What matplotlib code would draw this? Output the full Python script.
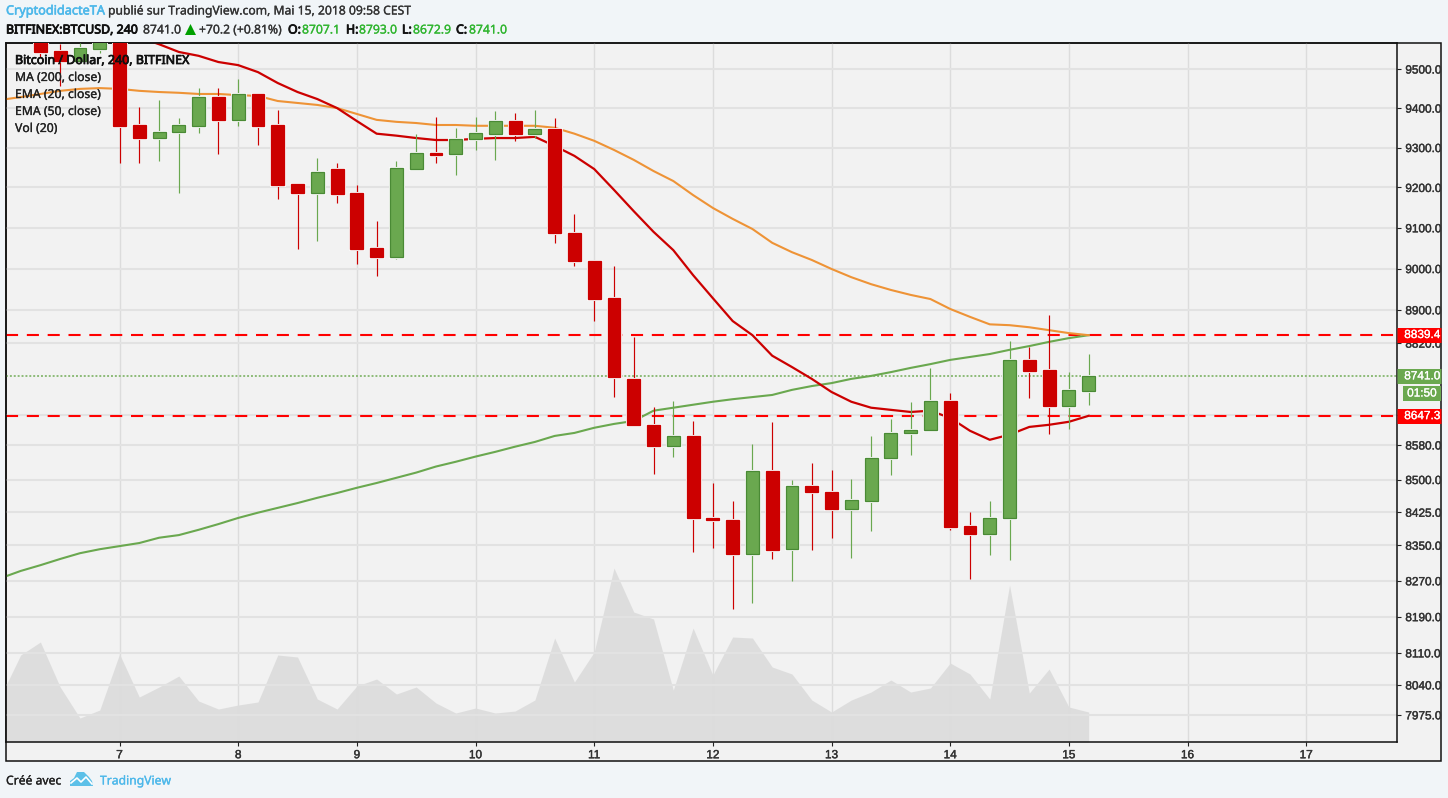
"""BITFINEX:BTCUSD 240 TradingView snapshot, redrawn with matplotlib."""
import matplotlib
matplotlib.use("Agg")
import matplotlib.pyplot as plt
import matplotlib.patheffects as pe
import numpy as np
from matplotlib.lines import Line2D
from matplotlib.patches import Polygon, Rectangle
from matplotlib.ticker import FixedLocator, NullLocator

W, H = 1448, 798

# bar index 0 = the 00:00 candle of day 7, 6 candles per day
bar_index = list(range(-4, 50))
opens = [9590, 9546, 9521, 9551, 9620, 9357, 9324, 9340, 9355, 9428, 9370, 9436, 9357, 9209,
         9186, 9246, 9186, 9050, 9028, 9246, 9286, 9284, 9322, 9335, 9367, 9335, 9347, 9087,
         9018, 8928, 8735, 8627, 8578, 8601, 8412, 8408, 8330, 8520, 8341, 8486, 8472, 8433,
         8451, 8550, 8608, 8615, 8683, 8394, 8376, 8412, 8780, 8756, 8671, 8707.1]
highs = [9600, 9564, 9567, 9590, 9630, 9403, 9421, 9375, 9451, 9451, 9474, 9436, 9395, 9209,
         9274, 9261, 9206, 9117, 9266, 9335, 9378, 9350, 9378, 9393, 9388, 9395, 9375, 9134,
         9018, 9006, 8835, 8669, 8683, 8636, 8491, 8451, 8583, 8634, 8498, 8539, 8523, 8502,
         8601, 8641, 8681, 8761, 8702, 8426, 8451, 8825, 8811, 8887, 8751, 8793.0]
lows = [9531, 9456, 9521, 9541, 9261, 9261, 9266, 9186, 9337, 9284, 9355, 9307, 9171, 9047,
        9068, 9161, 9011, 8982, 9023, 9246, 9261, 9231, 9294, 9269, 9317, 9324, 9063, 9006,
        8873, 8692, 8627, 8513, 8553, 8335, 8344, 8207, 8220, 8319, 8270, 8339, 8367, 8321,
        8383, 8511, 8557, 8615, 8385, 8274, 8328, 8317, 8690, 8606, 8618, 8672.9]
closes = [9544, 9521, 9554, 9570, 9355, 9324, 9340, 9357, 9428, 9370, 9436, 9355, 9206, 9186,
          9239, 9184, 9047, 9028, 9249, 9286, 9281, 9322, 9337, 9367, 9335, 9347, 9087, 9018,
          8926, 8739, 8627, 8578, 8601, 8412, 8408, 8330, 8520, 8339, 8484, 8472, 8433, 8453,
          8550, 8608, 8615, 8683, 8392, 8376, 8412, 8780, 8754, 8671, 8709, 8741.0]

line_index = list(range(-6, 50))
ma200 = [8276, 8292, 8305, 8319, 8332, 8341, 8348, 8355, 8367, 8373, 8385, 8398, 8412, 8424,
         8435, 8446, 8458, 8469, 8481, 8492, 8504, 8516, 8530, 8541, 8553, 8564, 8576, 8587,
         8601, 8608, 8620, 8629, 8636, 8660, 8667, 8674, 8681, 8687, 8692, 8697, 8709, 8718,
         8725, 8735, 8742, 8751, 8761, 8770, 8780, 8787, 8794, 8804, 8813, 8823, 8832, 8839]
ema50 = [9421, 9428, 9436, 9444, 9449, 9451, 9449, 9444, 9441, 9439, 9436, 9436, 9433, 9431,
         9418, 9413, 9408, 9400, 9385, 9370, 9365, 9362, 9357, 9357, 9355, 9355, 9355, 9355,
         9350, 9335, 9317, 9294, 9269, 9241, 9216, 9181, 9149, 9122, 9097, 9063, 9040, 9021,
         8999, 8979, 8962, 8948, 8936, 8926, 8902, 8883, 8865, 8863, 8858, 8851, 8844, 8839]
ema20 = [9731, 9710, 9689, 9668, 9647, 9626, 9605, 9582, 9564, 9544, 9534, 9518, 9510, 9492,
         9464, 9441, 9423, 9400, 9367, 9335, 9330, 9324, 9319, 9319, 9322, 9324, 9324, 9327,
         9304, 9279, 9246, 9194, 9141, 9090, 9045, 8984, 8928, 8873, 8839, 8790, 8763, 8735,
         8704, 8681, 8667, 8662, 8657, 8660, 8643, 8613, 8592, 8604, 8622, 8627, 8634, 8648]
volume = [46, 87, 100, 55, 24, 32, 88, 45, 55, 66, 41, 33, 37, 40, 87, 85, 43, 33, 56, 63, 48,
          55, 39, 29, 34, 29, 31, 42, 104, 60, 90, 174, 130, 123, 52, 114, 67, 105, 104, 75,
          68, 42, 30, 42, 50, 62, 50, 54, 79, 68, 43, 157, 49, 73, 35, 30]

day_index = [0, 6, 12, 18, 24, 30, 36, 42, 48, 54, 60]
day_labels = ["7", "8", "9", "10", "11", "12", "13", "14", "15", "16", "17"]
price_ticks = [9500, 9400, 9300, 9200, 9100, 9000, 8900, 8820, 8650, 8580, 8500, 8425, 8350,
               8270, 8190, 8110, 8040, 7975]
level_high = 8839.4
level_low = 8647.3
last_price = 8741.0
legend_lines = ["MA (200, close)", "EMA (20, close)", "EMA (50, close)", "Vol (20)"]

RED = "#cc0000"
GREEN = "#6aa84f"
GREEN_EDGE = "#4a8a35"
BG = "#f2f2f2"
GRID = "#e2e2e2"
UI_FONT = "Noto Sans"
AXIS_FONT = "Liberation Sans"


def fx(x):
    return x / W


def fy(y):
    return 1 - y / H


def fatten(txt, amount=0.2):
    # Noto Sans has no usable bold here, so thicken the outline instead
    txt.set_path_effects([pe.withStroke(linewidth=amount, foreground=txt.get_color())])
    return txt


def label(x, y, s, weight=0.2, **kw):
    kw.setdefault("family", UI_FONT)
    kw.setdefault("fontsize", 8.75)
    kw.setdefault("va", "center")
    return fatten(fig.text(fx(x), fy(y), s, **kw), weight)


fig = plt.figure(figsize=(W / 100, H / 100), dpi=100, facecolor="#f1f5f8")

# panel behind plot + both scales, with its outer frame
fig.add_artist(Rectangle((fx(6), fy(761)), fx(1435), 718 / H, transform=fig.transFigure,
                         fc=BG, ec="#111111", lw=1.1))

ax_vol = fig.add_axes([fx(6), fy(742), fx(1391), 699 / H])
ax = fig.add_axes([fx(6), fy(742), fx(1391), 699 / H])
ax.set_zorder(2)
ax.patch.set_visible(False)
ax_vol.patch.set_visible(False)
ax_vol.set_zorder(1)

# volume pane
ax_vol.fill_between(line_index, volume, 0, color="#bdbdbd", alpha=0.38, lw=0)
ax_vol.set_xlim(-5.74, 64.59)
ax_vol.set_ylim(0, 699)
ax_vol.axis("off")

ax.set_yscale("log")
ax.set_xlim(-5.74, 64.59)
ax.set_ylim(7916.5, 9567.2)
ax.set_axisbelow(True)

ax.xaxis.set_major_locator(FixedLocator(day_index))
ax.xaxis.set_ticklabels(day_labels)
ax.xaxis.set_minor_locator(NullLocator())
ax.yaxis.tick_right()
ax.yaxis.set_major_locator(FixedLocator(price_ticks))
ax.yaxis.set_ticklabels([f"{p:.1f}" for p in price_ticks])
ax.yaxis.set_minor_locator(NullLocator())
ax.tick_params(axis="both", length=3, width=0.8, color="#222222", labelsize=8.5,
               labelcolor="#333333", labelfontfamily=AXIS_FONT)
ax.tick_params(axis="y", pad=3)
ax.tick_params(axis="x", pad=2.2)
for t in ax.get_xticklabels() + ax.get_yticklabels():
    fatten(t, 0.3)
ax.grid(axis="x", color="#dcdcdc", lw=1.0)
ax.grid(axis="y", color=GRID, lw=1.5)
for sp in ax.spines.values():
    sp.set_color("#111111")
    sp.set_linewidth(1.1)

# horizontal levels sit under the candles
dash = (0, (5.8, 4.2))
ax.axhline(level_high, color="#ff0000", lw=1.5, ls=dash, zorder=1.5)
ax.axhline(level_low, color="#ff0000", lw=1.5, ls=dash, zorder=1.5)
ax.axhline(last_price, color="#8dbb78", lw=1.4, ls=(0, (1, 1)), zorder=1.5)

ax.plot(line_index, ma200, color=GREEN, lw=1.5, zorder=2)
ax.plot(line_index, ema50, color="#ee9336", lw=1.5, zorder=2)
ax.plot(line_index, ema20, color=RED, lw=1.6, zorder=2)

# candles
up = [c >= o for o, c in zip(opens, closes)]
wick_colors = [GREEN if u else RED for u in up]
ax.vlines(bar_index, lows, highs, colors=wick_colors, lw=0.85, zorder=3)
bodies_low = [min(o, c) for o, c in zip(opens, closes)]
bodies_h = [abs(c - o) for o, c in zip(opens, closes)]
bars = ax.bar(bar_index, bodies_h, bottom=bodies_low, width=0.65, zorder=4,
              color=[GREEN if u else RED for u in up],
              edgecolor=[GREEN_EDGE if u else RED for u in up], linewidth=0.9)
# the jpeg left a faint pale rim around the bodies
for b in bars:
    b.set_path_effects([pe.withStroke(linewidth=2.2, foreground="#f9f9f9")])

# price tags on the right scale
ytrans = ax.get_yaxis_transform()
for price, color in [(level_high, "#ff0000"), (level_low, "#ff0000"), (last_price, GREEN)]:
    ax.plot([1.0, 1.0316], [price, price], transform=ytrans, color=color, lw=10.8,
            solid_capstyle="butt", clip_on=False, zorder=6)
    fatten(ax.text(1.0052, price, f"{price:.1f}", transform=ytrans, color="white", va="center",
                   ha="left", family=AXIS_FONT, fontsize=8.5, clip_on=False, zorder=7), 0.2)

fig.add_artist(Rectangle((fx(1403), fy(401)), fx(38), 15 / H, transform=fig.transFigure,
                         fc=GREEN, ec="none"))
label(1422, 393.5, "01:50", color="white", family=AXIS_FONT, fontsize=8.5, ha="center")

# legend text over the chart
fatten(fig.text(fx(15), fy(60.5), "Bitcoin / Dollar, 240, BITFINEX", family=UI_FONT,
                fontsize=8.95, color="#111111", va="center", zorder=10), 0.55)
for i, s in enumerate(legend_lines):
    fatten(fig.text(fx(15), fy(77.5 + 17 * i), s, family=UI_FONT, fontsize=8.8, color="#222222",
                    va="center", zorder=10))

# header rows
label(6, 11, "CryptodidacteTA", color="#4db8ea", weight=0.4, fontsize=9.15)
label(108, 11, "publié sur TradingView.com, Mai 15, 2018 09:58 CEST", color="#333333")
TITLE_GREEN = "#2fb52f"
label(6, 30, "BITFINEX:BTCUSD, 240", color="#111111", weight=0.6, fontsize=8.9)
label(143, 30, "8741.0", color="#333333")
fig.add_artist(Polygon([(fx(185), fy(35)), (fx(196), fy(35)), (fx(190.5), fy(24))],
                       transform=fig.transFigure, fc="#00a000", ec="none"))
label(199, 30, "+70.2 (+0.81%)", color="#333333")
for x, s in [(288, "O:"), (346, "H:"), (402, "L:"), (456, "C:")]:
    label(x, 30, s, color="#111111", weight=0.6, fontsize=8.9)
for x, s in [(302, "8707.1"), (359, "8793.0"), (413, "8672.9"), (469, "8741.0")]:
    label(x, 30, s, color=TITLE_GREEN)

# footer with the little cloud logo
label(6, 781, "Créé avec", color="#222222")
cloud = [(70, 786), (70, 781), (74, 778), (77, 772), (84, 772), (89, 777), (92, 781), (93, 786)]
fig.add_artist(Polygon([(fx(x), fy(y)) for x, y in cloud], transform=fig.transFigure,
                       fc="#5cc0e8", ec="none"))
zig = [(71, 783), (77, 778), (81, 782), (86, 777), (92, 784)]
fig.add_artist(Line2D([fx(x) for x, _ in zig], [fy(y) for _, y in zig], color="white", lw=1.2,
                      transform=fig.transFigure))
label(100, 781, "TradingView", color="#4db8ea")

fig.savefig("out.png", dpi=100, facecolor=fig.get_facecolor())
